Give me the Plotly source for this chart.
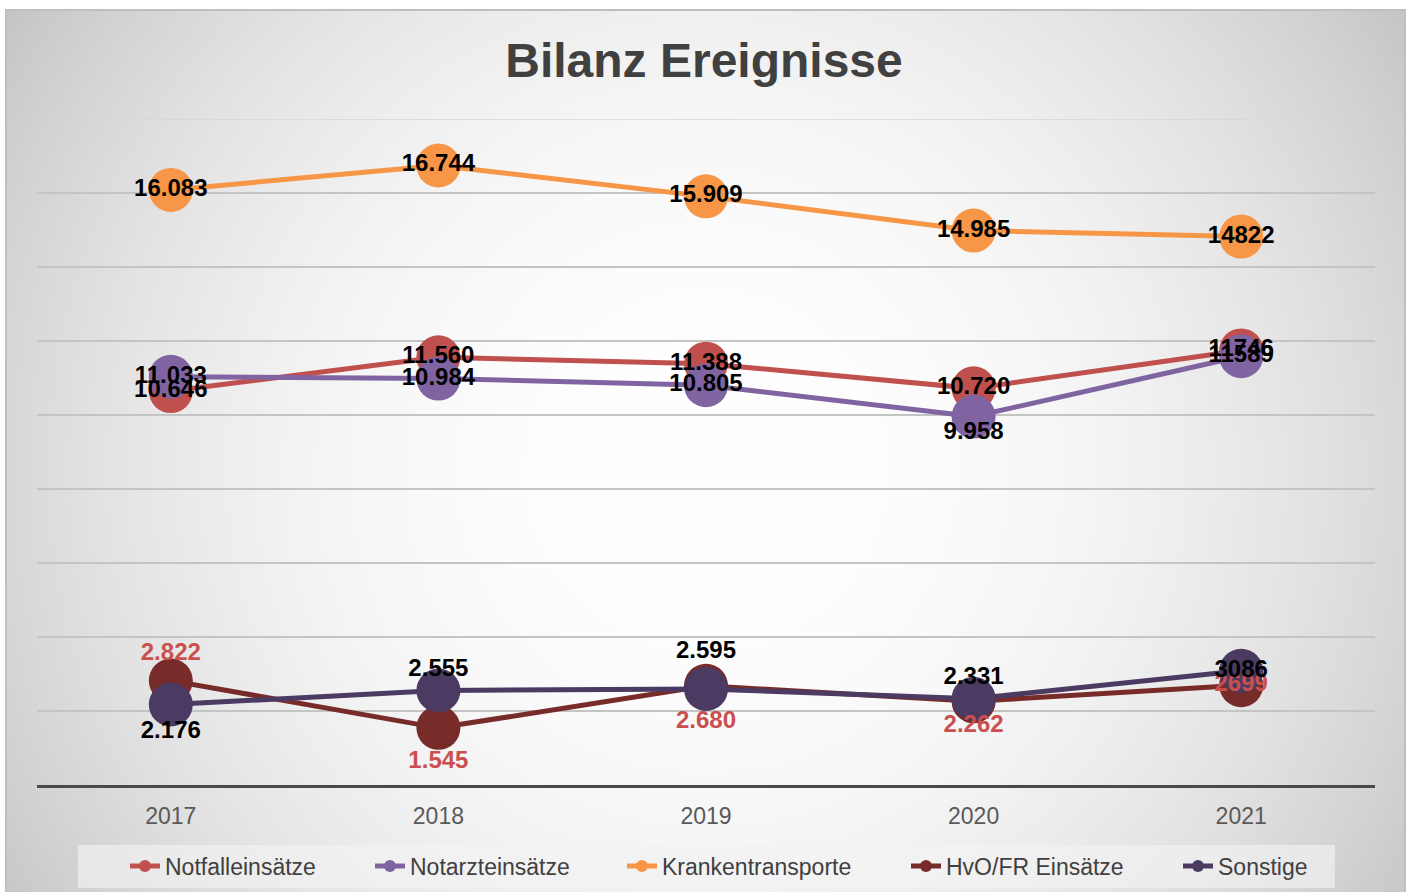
import base64
import struct
import zlib

import numpy as np
import plotly.graph_objects as go

# ---------------- data ----------------
years = ["2017", "2018", "2019", "2020", "2021"]
series_names = ["Notfalleinsätze", "Notarzteinsätze", "Krankentransporte", "HvO/FR Einsätze", "Sonstige"]
notfall = [10646, 11560, 11388, 10720, 11746]
notarzt = [11033, 10984, 10805, 9958, 11589]
kranken = [16083, 16744, 15909, 14985, 14822]
hvo = [2822, 1545, 2680, 2262, 2699]
sonstige = [2176, 2555, 2595, 2331, 3086]

notfall_labels = ["10.646", "11.560", "11.388", "10.720", "11746"]
notarzt_labels = ["11.033", "10.984", "10.805", "9.958", "11589"]
kranken_labels = ["16.083", "16.744", "15.909", "14.985", "14822"]
hvo_labels = ["2.822", "1.545", "2.680", "2.262", "2699"]
sonstige_labels = ["2.176", "2.555", "2.595", "2.331", "3086"]

y_max = 18000
y_step = 2000

# ---------------- styles ----------------
W, H = 1408, 892
L, R, T, B = 37, 1375, 119, 785  # plot area in px

colors = ["#C0504D", "#8064A2", "#F79646", "#772C2A", "#4B3A62"]
label_colors = ["#000000", "#000000", "#000000", "#C9504E", "#000000"]
positions = [
    ["middle center"] * 5,
    ["middle center", "middle center", "middle center", "bottom center", "middle center"],
    ["middle center"] * 5,
    ["top center", "bottom center", "bottom center", "bottom center", "middle center"],
    ["bottom center", "top center", "top center", "top center", "middle center"],
]
# invisible marker sizes that set how far a label sits from its point
label_gap = [
    [10] * 5,
    [10, 10, 10, 6, 10],
    [10] * 5,
    [21, 34, 37, 18, 10],
    [24, 12, 39, 13, 10],
]
values = [notfall, notarzt, kranken, hvo, sonstige]
labels = [notfall_labels, notarzt_labels, kranken_labels, hvo_labels, sonstige_labels]
legend_text_x = [165, 410, 662, 946, 1218]


def px_to_paper_x(px):
    return (px - L) / (R - L)


def px_to_paper_y(py):
    return (B - py) / (B - T)


# radial gradient background image
def png_gray(arr):
    h, w = arr.shape
    raw = b"".join(b"\x00" + arr[i].tobytes() for i in range(h))

    def chunk(t, d):
        c = struct.pack(">I", len(d)) + t + d
        return c + struct.pack(">I", zlib.crc32(t + d) & 0xFFFFFFFF)

    return (b"\x89PNG\r\n\x1a\n"
            + chunk(b"IHDR", struct.pack(">IIBBBBB", w, h, 8, 0, 0, 0, 0))
            + chunk(b"IDAT", zlib.compress(raw, 9))
            + chunk(b"IEND", b""))


bx0, by0, bx1, by1 = 6, 10, 1406, 892
gw, gh = bx1 - bx0, by1 - by0
yy, xx = np.mgrid[0:gh, 0:gw]
cx, cy = 706 - bx0, 470 - by0
d = np.sqrt((xx - cx) ** 2 + (yy - cy) ** 2)
g = 255 - 39 * (d / 700.0) ** 2.2
g = np.clip(g, 0, 255).astype(np.uint8)
bg_uri = "data:image/png;base64," + base64.b64encode(png_gray(g)).decode()

fig = go.Figure()

# lines + markers
for i in range(5):
    fig.add_trace(go.Scatter(
        x=years, y=values[i], name=series_names[i], mode="lines+markers",
        line=dict(color=colors[i], width=5),
        marker=dict(color=colors[i], size=44),
        legend="legend" if i == 0 else f"legend{i + 1}",
        hoverinfo="skip",
    ))

# data labels on top of all series
for i in range(5):
    fig.add_trace(go.Scatter(
        x=years, y=values[i], mode="markers+text", text=labels[i],
        textposition=positions[i],
        marker=dict(size=label_gap[i], opacity=0, color=colors[i]),
        textfont=dict(family="Liberation Sans, Arial", size=24, color=label_colors[i], weight="bold"),
        showlegend=False, hoverinfo="skip",
    ))

layout_legends = {}
for i in range(5):
    key = "legend" if i == 0 else f"legend{i + 1}"
    layout_legends[key] = dict(
        xref="container", yref="container",
        x=(legend_text_x[i] - 40) / W, y=1 - 866 / H,
        xanchor="left", yanchor="middle",
        bgcolor="rgba(0,0,0,0)", borderwidth=0,
        itemsizing="constant",
        font=dict(family="Liberation Sans, Arial", size=23, color="#404040"),
    )

fig.update_layout(
    width=W, height=H,
    margin=dict(l=L, r=W - R, t=T, b=H - B, autoexpand=False),
    paper_bgcolor="white",
    plot_bgcolor="rgba(0,0,0,0)",
    title=dict(text="<b>Bilanz Ereignisse</b>", x=0.5, xref="container", xanchor="center",
               y=1 - 60 / H, yref="container", yanchor="middle",
               font=dict(family="Liberation Sans, Arial", size=48, color="#404040")),
    xaxis=dict(type="category", range=[-0.5, 4.5], showgrid=False, zeroline=False,
               showline=True, linecolor="#4a4a4a", linewidth=3, ticks="",
               tickfont=dict(family="Liberation Sans, Arial", size=23, color="#595959"),
               ticklabelstandoff=8, automargin=False),
    yaxis=dict(range=[0, y_max], dtick=y_step,
               showticklabels=False, zeroline=False,
               showgrid=True, gridcolor="#c4c4c4", gridwidth=1.5, showline=False, ticks="",
               automargin=False),
    images=[dict(source=bg_uri, xref="paper", yref="paper",
                 x=px_to_paper_x(bx0), y=px_to_paper_y(by0),
                 sizex=gw / (R - L), sizey=gh / (B - T),
                 xanchor="left", yanchor="top", sizing="stretch", layer="below")],
    shapes=[
        dict(type="rect", xref="paper", yref="paper", layer="below",
             x0=px_to_paper_x(bx0), x1=px_to_paper_x(bx1 - 1),
             y0=px_to_paper_y(by1 + 5), y1=px_to_paper_y(by0),
             line=dict(color="#bfbfbf", width=2), fillcolor="rgba(0,0,0,0)"),
        dict(type="rect", xref="paper", yref="paper", layer="below",
             x0=px_to_paper_x(78), x1=px_to_paper_x(1335),
             y0=px_to_paper_y(888), y1=px_to_paper_y(845),
             line=dict(width=0), fillcolor="rgba(242,242,242,0.65)"),
        # top gridline (at the edge of the y range)
        dict(type="line", xref="paper", yref="y", layer="below",
             x0=0, x1=1, y0=y_max, y1=y_max,
             line=dict(color="#d6d6d6", width=1.5)),
    ],
    **layout_legends,
)

fig.write_html("out.html")
